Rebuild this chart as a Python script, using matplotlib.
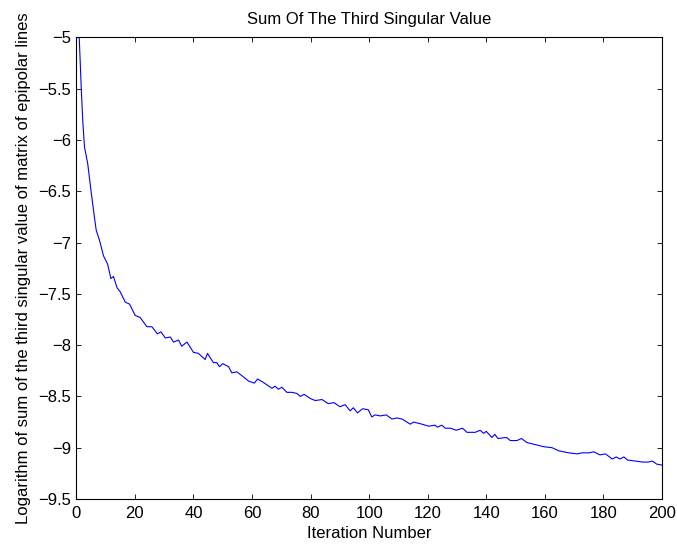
import matplotlib
matplotlib.use("Agg")
import matplotlib.pyplot as plt

plt.rcParams['font.family'] = ['Liberation Sans', 'DejaVu Sans']

iters = [1, 1.7, 2.2, 2.8, 3.9, 5, 5.9, 6.8, 7.95, 9.3, 10.7, 11.8, 12.7, 13.9, 15,
         16.7, 18.2, 20.1, 21.8, 24.1, 25.8, 27.7, 28.9, 30.4, 32.1, 33.2, 34.9, 36,
         37.8, 40, 41.7, 44, 44.8, 46.8, 48, 48.9, 50, 52, 53.1, 54.8, 57.1, 58.8,
         60.8, 61.9, 63.7, 66.8, 67.9, 69, 70.2, 71.9, 73.6, 75.3, 76.5, 77.8, 79.9,
         81.6, 83.9, 86, 88, 90, 91.8, 93.5, 94.6, 96, 97.8, 99.7, 100.9, 102, 103.8,
         105.8, 107.8, 109.5, 111.2, 114, 115.2, 118, 120.3, 122.5, 123.3, 124.8, 126,
         127.9, 129.7, 131.9, 133.4, 136.2, 137.9, 139.1, 140, 141.9, 142.9, 144,
         146.9, 148.2, 150.5, 152, 153.9, 156.8, 159.6, 162.5, 164.7, 168.2, 171,
         172.7, 175, 176.7, 178.8, 180.7, 183, 184.4, 185.6, 187, 188.2, 191, 193.3,
         195.3, 196.7, 198.2, 200]
log_sum = [-5.0, -5.5, -5.81, -6.07, -6.23, -6.49, -6.69, -6.88, -6.98, -7.13, -7.21,
           -7.35, -7.33, -7.44, -7.48, -7.58, -7.6, -7.71, -7.73, -7.82, -7.82, -7.89,
           -7.87, -7.93, -7.92, -7.97, -7.95, -8.01, -7.97, -8.07, -8.08, -8.14, -8.08,
           -8.17, -8.17, -8.21, -8.18, -8.21, -8.27, -8.26, -8.31, -8.35, -8.37, -8.33,
           -8.36, -8.42, -8.4, -8.43, -8.41, -8.46, -8.46, -8.47, -8.5, -8.48, -8.52,
           -8.54, -8.53, -8.57, -8.56, -8.6, -8.58, -8.64, -8.61, -8.66, -8.62, -8.63,
           -8.7, -8.68, -8.69, -8.68, -8.72, -8.71, -8.72, -8.77, -8.75, -8.77, -8.79,
           -8.78, -8.8, -8.78, -8.81, -8.81, -8.83, -8.81, -8.85, -8.85, -8.83, -8.86,
           -8.84, -8.9, -8.87, -8.91, -8.9, -8.93, -8.93, -8.91, -8.95, -8.97, -8.99,
           -9.0, -9.03, -9.05, -9.06, -9.05, -9.05, -9.04, -9.07, -9.06, -9.11, -9.09,
           -9.11, -9.09, -9.12, -9.13, -9.14, -9.14, -9.13, -9.16, -9.17]

x_ticks = [0, 20, 40, 60, 80, 100, 120, 140, 160, 180, 200]
y_ticks = [-9.5, -9, -8.5, -8, -7.5, -7, -6.5, -6, -5.5, -5]
y_tick_labels = ['\u22129.5', '\u22129', '\u22128.5', '\u22128', '\u22127.5',
                 '\u22127', '\u22126.5', '\u22126', '\u22125.5', '\u22125']

fig = plt.figure(figsize=(6.77, 5.44), dpi=100)
ax = fig.add_axes([76.3/677, 1 - 499/544, (662 - 76.3)/677, (499 - 37.5)/544])
ax.plot(iters, log_sum, color=(0, 0, 1), lw=0.8)
ax.set_xlim(0, 200)
ax.set_ylim(-9.5, -5)
ax.set_xticks(x_ticks)
ax.set_yticks(y_ticks)
ax.set_yticklabels(y_tick_labels)
ax.tick_params(direction='in', top=True, right=True, length=3.6, width=0.6,
               labelsize=12)
ax.tick_params(axis='x', pad=5)
ax.tick_params(axis='y', pad=3.8)
for s in ax.spines.values():
    s.set_linewidth(0.8)
ax.set_title('Sum Of The Third Singular Value', fontsize=12, pad=9.7)
ax.set_xlabel('Iteration Number', fontsize=12, labelpad=4)
ax.set_ylabel('Logarithm of sum of the third singular value of matrix of epipolar lines',
              fontsize=12, labelpad=5)
fig.savefig('out.png', dpi=100)
